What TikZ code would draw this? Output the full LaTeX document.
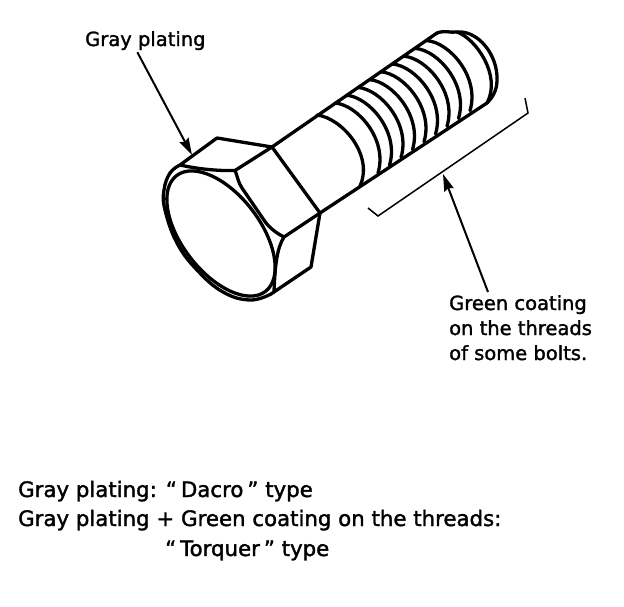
\documentclass[tikz,border=0pt]{standalone}
\usepackage{fontspec}
\setmainfont[AutoFakeBold=1.6]{DejaVu Sans}
\usetikzlibrary{arrows.meta}

\tikzset{
	outline/.style={line width=3.3pt, line join=round, line cap=round},
	thinline/.style={line width=1.5pt, line join=miter},
	pointer/.style={line width=2pt, -{Stealth[length=17pt,width=10pt,inset=2pt]}},
	label/.style={inner sep=0pt, anchor=base west, font=\fontsize{19.5}{25}\selectfont\bfseries, align=left},
	biglabel/.style={label, font=\fontsize{21.3}{25}\selectfont\bfseries}
}

\begin{document}
\begin{tikzpicture}[x=1pt,y=-1pt]

	\useasboundingbox (0,0) rectangle (624,606);

	\coordinate (hexA) at (180,165);
	\coordinate (hexB) at (217,138);
	\coordinate (hexC) at (272,147);
	\coordinate (hexD) at (320,213);
	\coordinate (hexE) at (311,267);
	\coordinate (hexF) at (271,294);
	\coordinate (hexG) at (235,170.5);
	\coordinate (hexH) at (284,237);
	\coordinate (faceC) at (221,233.5);
	\coordinate (shaftT) at (437,33);
	\coordinate (shaftB) at (487,103);
	\coordinate (platetip) at (192,155);
	\coordinate (coattip) at (443,174);

	% Face of the head
	\draw[outline, rotate=-52.5] (faceC) ellipse (73pt and 39pt);
	\draw[outline] plot [smooth, tension=0.7] coordinates {(hexA) (170,173) (164,190) (165,210) (177,243) (197,270) (223,292) (250,300) (hexF)};

	% Hexagon
	\draw[outline] (hexA) -- (hexB) -- (hexC) -- (hexD) -- (hexE) -- (hexF);
	\draw[outline] (hexA) .. controls (198,169) and (218,171) .. (hexG);
	\draw[outline] (hexG) -- (hexC);
	\draw[outline] (hexH) -- (hexD);
	\draw[outline] (hexG) .. controls (238,178) and (238,182) .. (242,188) -- (266,223) .. controls (272,230) and (278,234) .. (hexH);
	\draw[outline] (hexH) .. controls (277,248) and (275,265) .. (274,292);

	% Shaft
	\draw[outline] (hexC) -- (shaftT);
	\draw[outline] (hexD) -- (shaftB);
	\draw[outline] (shaftT) .. controls (445,30) and (450,33) .. (457,32) .. controls (478,30) and (498,55) .. (497,80) .. controls (497,90) and (493,97) .. (shaftB);

	% Threads
	\draw[outline] (317,115) .. controls (342,118) and (374,155) .. (360,186);
	\foreach \i in {0,...,8}
		\draw[outline, shift={(11.5*\i,-7.8*\i)}] (335,103) .. controls (358,105) and (388,140) .. (378,173);
	\draw[outline] (457,32) .. controls (475,38) and (502,75) .. (487,103);

	% Bracket
	\draw[thinline] (368,208) -- (378,216) -- (528,113) -- (525,98);

	% Labels
	\node[label] (plating) at (85,46) {Gray plating};
	\node[label] (coating) at (449,360) {Green coating\\on the threads\\of some bolts.};
	\node[biglabel] (dacro) at (18,497) {Gray plating: ``\hspace{4pt}Dacro\hspace{4pt}'' type};
	\node[biglabel] (both) at (18,526) {Gray plating + Green coating on the threads:};
	\node[biglabel] (torquer) at (165,556) {``\hspace{4pt}Torquer\hspace{4pt}'' type};

	% Arrows
	\draw[pointer] (plating.south) ++(-8,2) -- (platetip);
	\draw[pointer] (coating.north west) ++(39,-3) -- (coattip);

\end{tikzpicture}
\end{document}
